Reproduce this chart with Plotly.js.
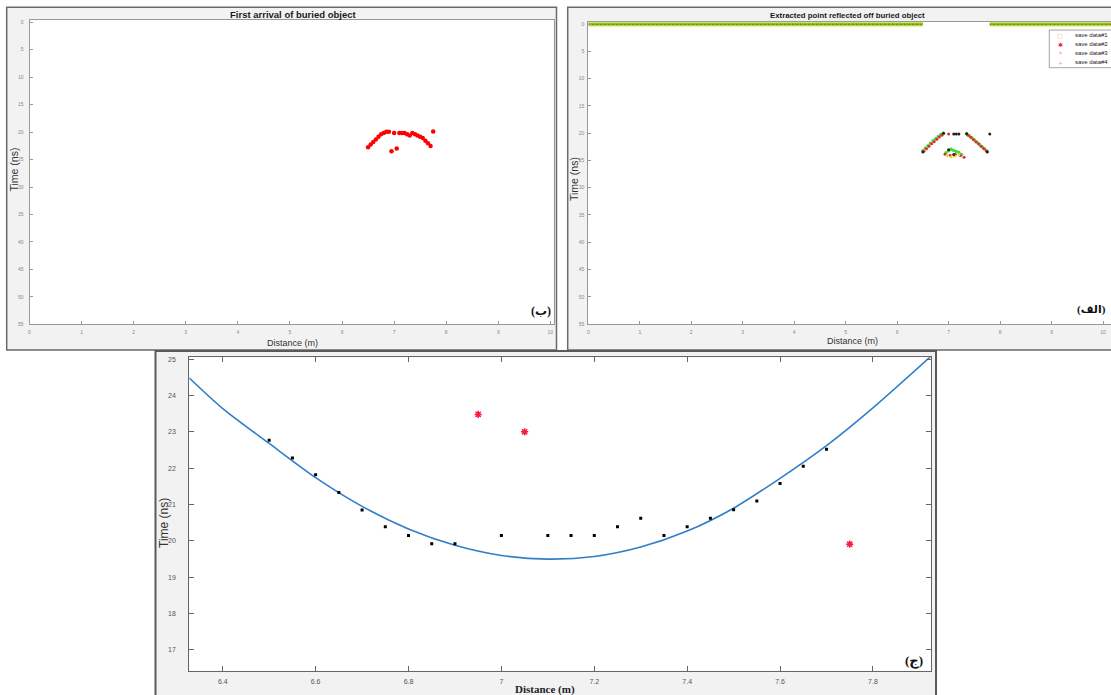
<!DOCTYPE html>
<html><head><meta charset="utf-8">
<script src="https://cdn.plot.ly/plotly-3.0.1.min.js"></script>
<style>html,body{margin:0;padding:0;background:#fff}#chart{width:1111px;height:695px}</style>
</head><body><div id="chart"></div>
<script>
// ---------- data ----------
// picked first-arrival points (black dots in bottom panel, red in panel ب)
const pickX = [6.5,6.55,6.6,6.65,6.7,6.75,6.8,6.85,6.9,7.0,7.1,7.15,7.2,7.25,7.3,7.35,7.4,7.45,7.5,7.55,7.6,7.65,7.7];
const pickT = [22.77,22.28,21.82,21.33,20.85,20.39,20.15,19.92,19.92,20.15,20.15,20.15,20.15,20.39,20.62,20.15,20.39,20.62,20.86,21.1,21.58,22.05,22.52];
// rejected points (red asterisks)
const outlierX = [6.95,7.05,7.75];
const outlierT = [23.48,23.0,19.91];
// fitted hyperbola (blue curve)
const fitX = [6.328,6.4,6.5,6.6,6.7,6.8,6.9,7.0,7.1,7.2,7.3,7.4,7.5,7.6,7.7,7.8,7.925];
const fitT = [24.48,23.64,22.68,21.74,20.95,20.33,19.88,19.6,19.5,19.57,19.83,20.27,20.9,21.72,22.62,23.66,25.08];
// panel الف : extracted points
const zeroX = [0,6.5,null,7.8,10.2];
const zeroT = [0,0,null,0,0];
const save1X = [6.5,6.55,6.6,6.65,6.7,6.75,6.8,6.85,6.9,7.35,7.4,7.45,7.5,7.55,7.6,7.65,7.7,7.75,6.95,7.0,7.05,7.1,7.15,7.2,7.25];
const save1T = [23.2,22.75,22.3,21.85,21.4,21.0,20.6,20.25,20.0,20.1,20.45,20.85,21.25,21.65,22.05,22.5,22.9,23.3,23.6,23.2,22.95,23.15,23.35,23.55,23.9];
const save2X = [6.52,6.57,6.62,6.67,6.72,6.77,6.82,6.87,7.0,7.38,7.43,7.48,7.53,7.58,7.63,7.68,7.73,6.93,7.03,7.13,7.23,7.3];
const save2T = [23.3,22.85,22.4,21.95,21.55,21.1,20.7,20.35,20.15,20.35,20.75,21.15,21.55,21.95,22.4,22.8,23.2,23.85,24.05,23.9,24.1,24.4];
const save3X = [6.5,6.9,7.1,7.15,7.2,7.35,7.75,7.8,7.0,7.1];
const save3T = [23.45,20.0,20.15,20.15,20.15,20.1,23.45,20.15,23.05,23.9];
const save4X = [6.97,7.05,7.12,7.2];
const save4T = [24.1,24.3,24.2,23.95];
const legendNames = ['save data#1','save data#2','save data#3','save data#4'];
const legendGlyphs = ['\u25A1','\u2731','*','+'];
const legendColors = ['#ff9ab0','#e8264f','#ff6f91','#ff9ab0'];
// tick labels
const tickTop = [0,1,2,3,4,5,6,7,8,9,10];
const tickTopY = [0,5,10,15,20,25,30,35,40,45,50,55];
const tickBotX = [6.4,6.6,6.8,7,7.2,7.4,7.6,7.8];
const tickBotXText = ['6.4','6.6','6.8','7','7.2','7.4','7.6','7.8'];
const tickBotY = [17,18,19,20,21,22,23,24,25];

// ---------- layout helpers ----------
const W = 1111, H = 695;
const px = v => v / W;
const py = v => 1 - v / H;
const SANS = 'Liberation Sans, Arial, sans-serif';

const topAxis = (dom, rng, anchor, standoff) => ({
  domain: dom, range: rng, anchor: anchor, autorange: false,
  tickmode: 'array', ticks: 'inside', ticklen: 3, tickcolor: '#999', tickwidth: 1,
  showline: true, linecolor: '#999', linewidth: 1, mirror: true,
  showgrid: false, zeroline: false, ticklabelstandoff: standoff,
  tickfont: {family: SANS, size: 5, color: '#888'}
});

const xa1 = Object.assign(topAxis([px(29.5), px(553.5)], [0, 10.06], 'y', 3), {tickvals: tickTop});
const ya1 = Object.assign(topAxis([py(324.3), py(19.5)], [55, -0.5], 'x', 4), {tickvals: tickTopY});
const xa2 = Object.assign(topAxis([px(588.3), 1], [0, 10.155], 'y2', 3), {tickvals: tickTop});
const ya2 = Object.assign(topAxis([py(324), py(21.5)], [55, -0.5], 'x2', 2), {tickvals: tickTopY});
const xa3 = {
  domain: [px(189.3), px(931)], range: [6.328, 7.925], anchor: 'y3', autorange: false,
  tickmode: 'array', tickvals: tickBotX, ticktext: tickBotXText,
  ticks: 'inside', ticklen: 5, tickcolor: '#666', showline: true, linecolor: '#666', linewidth: 1,
  mirror: 'ticks', showgrid: false, zeroline: false, ticklabelstandoff: 4,
  tickfont: {family: SANS, size: 7, color: '#555'}
};
const ya3 = {
  domain: [py(670.7), py(357.3)], range: [16.43, 25.05], anchor: 'x3', autorange: false,
  tickmode: 'array', tickvals: tickBotY,
  ticks: 'inside', ticklen: 5, tickcolor: '#666', showline: true, linecolor: '#666', linewidth: 1,
  mirror: 'ticks', showgrid: false, zeroline: false, ticklabelstandoff: 11,
  tickfont: {family: SANS, size: 7, color: '#555'}
};

// ---------- traces ----------
const traces = [
  // panel ب
  {x: pickX, y: pickT, xaxis: 'x', yaxis: 'y', mode: 'markers', type: 'scatter',
   marker: {symbol: 'circle', size: 4.5, color: '#ff0000', line: {width: 0}}},
  {x: outlierX, y: outlierT, xaxis: 'x', yaxis: 'y', mode: 'markers', type: 'scatter',
   marker: {symbol: 'circle', size: 4.5, color: '#ff0000', line: {width: 0}}},
  // panel الف
  {x: zeroX, y: zeroT, xaxis: 'x2', yaxis: 'y2', mode: 'lines', type: 'scatter',
   line: {color: '#dde04a', width: 4.5}},
  {x: zeroX, y: zeroT, xaxis: 'x2', yaxis: 'y2', mode: 'lines', type: 'scatter',
   line: {color: '#5cc23c', width: 2}},
  {x: zeroX, y: zeroT, xaxis: 'x2', yaxis: 'y2', mode: 'lines', type: 'scatter',
   line: {color: '#e02020', width: 1.2, dash: '1px,3px'}},
  {name: legendNames[0], x: save1X, y: save1T, xaxis: 'x2', yaxis: 'y2', mode: 'markers', type: 'scatter',
   marker: {symbol: 'circle', size: 3.5, color: '#3ddc3d', line: {width: 0}}},
  {name: legendNames[1], x: save2X, y: save2T, xaxis: 'x2', yaxis: 'y2', mode: 'markers', type: 'scatter',
   marker: {symbol: 'circle', size: 3, color: '#e52a2a', line: {width: 0}}},
  {name: legendNames[3], x: save4X, y: save4T, xaxis: 'x2', yaxis: 'y2', mode: 'markers', type: 'scatter',
   marker: {symbol: 'circle', size: 3, color: '#e3d83a', line: {width: 0}}},
  {name: legendNames[2], x: save3X, y: save3T, xaxis: 'x2', yaxis: 'y2', mode: 'markers', type: 'scatter',
   marker: {symbol: 'circle', size: 3, color: '#222222', line: {width: 0}}},
  // panel ج
  {x: fitX, y: fitT, xaxis: 'x3', yaxis: 'y3', mode: 'lines', type: 'scatter',
   line: {color: '#2f7fc8', width: 1.6, shape: 'spline', smoothing: 0.8}},
  {x: pickX, y: pickT, xaxis: 'x3', yaxis: 'y3', mode: 'markers', type: 'scatter',
   marker: {symbol: 'square', size: 3, color: '#000000', line: {width: 0}}},
  {x: outlierX, y: outlierT, xaxis: 'x3', yaxis: 'y3', mode: 'markers', type: 'scatter',
   marker: {symbol: 'asterisk-open', size: 6, color: '#ff1744', line: {width: 1.5, color: '#ff1744'}}}
];

// ---------- shapes ----------
const rect = (x0, y0, x1, y1, extra) => Object.assign({
  type: 'rect', xref: 'paper', yref: 'paper', x0: px(x0), x1: px(x1), y0: py(y1), y1: py(y0)
}, extra);
const white = {fillcolor: '#ffffff', line: {width: 0}, layer: 'below'};
const frame = {fillcolor: 'rgba(0,0,0,0)', line: {color: '#6a6a6a', width: 1.5}, layer: 'above'};
const shapes = [
  rect(0, 0, 1111, 7.3, white),
  rect(0, 0, 6.7, 351, white),
  rect(556.5, 0, 567.7, 351, white),
  rect(0, 350, 155.5, 695, white),
  rect(936, 350, 1111, 695, white),
  rect(6.7, 7.3, 556.5, 350, frame),
  rect(567.7, 7.3, 1116, 350, frame),
  rect(155.5, 351, 936, 700, {fillcolor: 'rgba(0,0,0,0)', line: {color: '#5a5a5a', width: 2}, layer: 'above'}),
  // legend box
  rect(1049.3, 30, 1118, 67.7, {fillcolor: '#ffffff', line: {color: '#8a8a8a', width: 0.8}, layer: 'above'})
];

// ---------- annotations ----------
const ann = (text, x, y, font, extra) => Object.assign({
  text: text, xref: 'paper', yref: 'paper', x: px(x), y: py(y), showarrow: false,
  xanchor: 'center', yanchor: 'middle', font: font
}, extra || {});
const ARAB = 'Liberation Serif, DejaVu Sans, serif';
const annotations = [
  ann('<b>First arrival of buried object</b>', 292.5, 15, {family: SANS, size: 9.5, color: '#1a1a1a'}),
  ann('<b>Extracted point reflected off buried object</b>', 847, 15.5, {family: SANS, size: 7.8, color: '#1a1a1a'}),
  ann('Distance (m)', 292.5, 342.5, {family: SANS, size: 9, color: '#333'}),
  ann('Distance (m)', 852.8, 341.5, {family: SANS, size: 9, color: '#333'}),
  ann('Time (ns)', 13.5, 170, {family: SANS, size: 10.5, color: '#333'}, {textangle: -90}),
  ann('Time (ns)', 574, 179, {family: SANS, size: 10.5, color: '#333'}, {textangle: -90}),
  ann('<b>Distance (m)</b>', 544.5, 689, {family: 'Liberation Serif, Times New Roman, serif', size: 11, color: '#222'}),
  ann('Time (ns)', 164, 523, {family: SANS, size: 12, color: '#333'}, {textangle: -90}),
  ann('<b>(ب)</b>', 553, 310.5, {family: ARAB, size: 12, color: '#111'}, {xanchor: 'right'}),
  ann('<b>(الف)</b>', 1108, 309.5, {family: ARAB, size: 11, color: '#111'}, {xanchor: 'right'}),
  ann('<b>(ج)</b>', 925, 661, {family: ARAB, size: 13, color: '#111'}, {xanchor: 'right'})
];
const legendRowsY = [35.5, 44.3, 53.3, 62.3];
legendNames.forEach((nm, i) => {
  annotations.push(ann(legendGlyphs[i], 1060.3, legendRowsY[i], {family: 'DejaVu Sans, sans-serif', size: 6, color: legendColors[i]}));
  annotations.push(ann(nm, 1072.7, legendRowsY[i], {family: SANS, size: 6, color: '#222'}, {xanchor: 'left'}));
});

const layout = {
  width: W, height: H, margin: {l: 0, r: 0, t: 0, b: 0},
  paper_bgcolor: '#f2f2f2', plot_bgcolor: '#ffffff', showlegend: false,
  xaxis: xa1, yaxis: ya1, xaxis2: xa2, yaxis2: ya2, xaxis3: xa3, yaxis3: ya3,
  shapes: shapes, annotations: annotations
};

Plotly.newPlot('chart', traces, layout, {displayModeBar: false, staticPlot: true});
</script>
</body></html>
